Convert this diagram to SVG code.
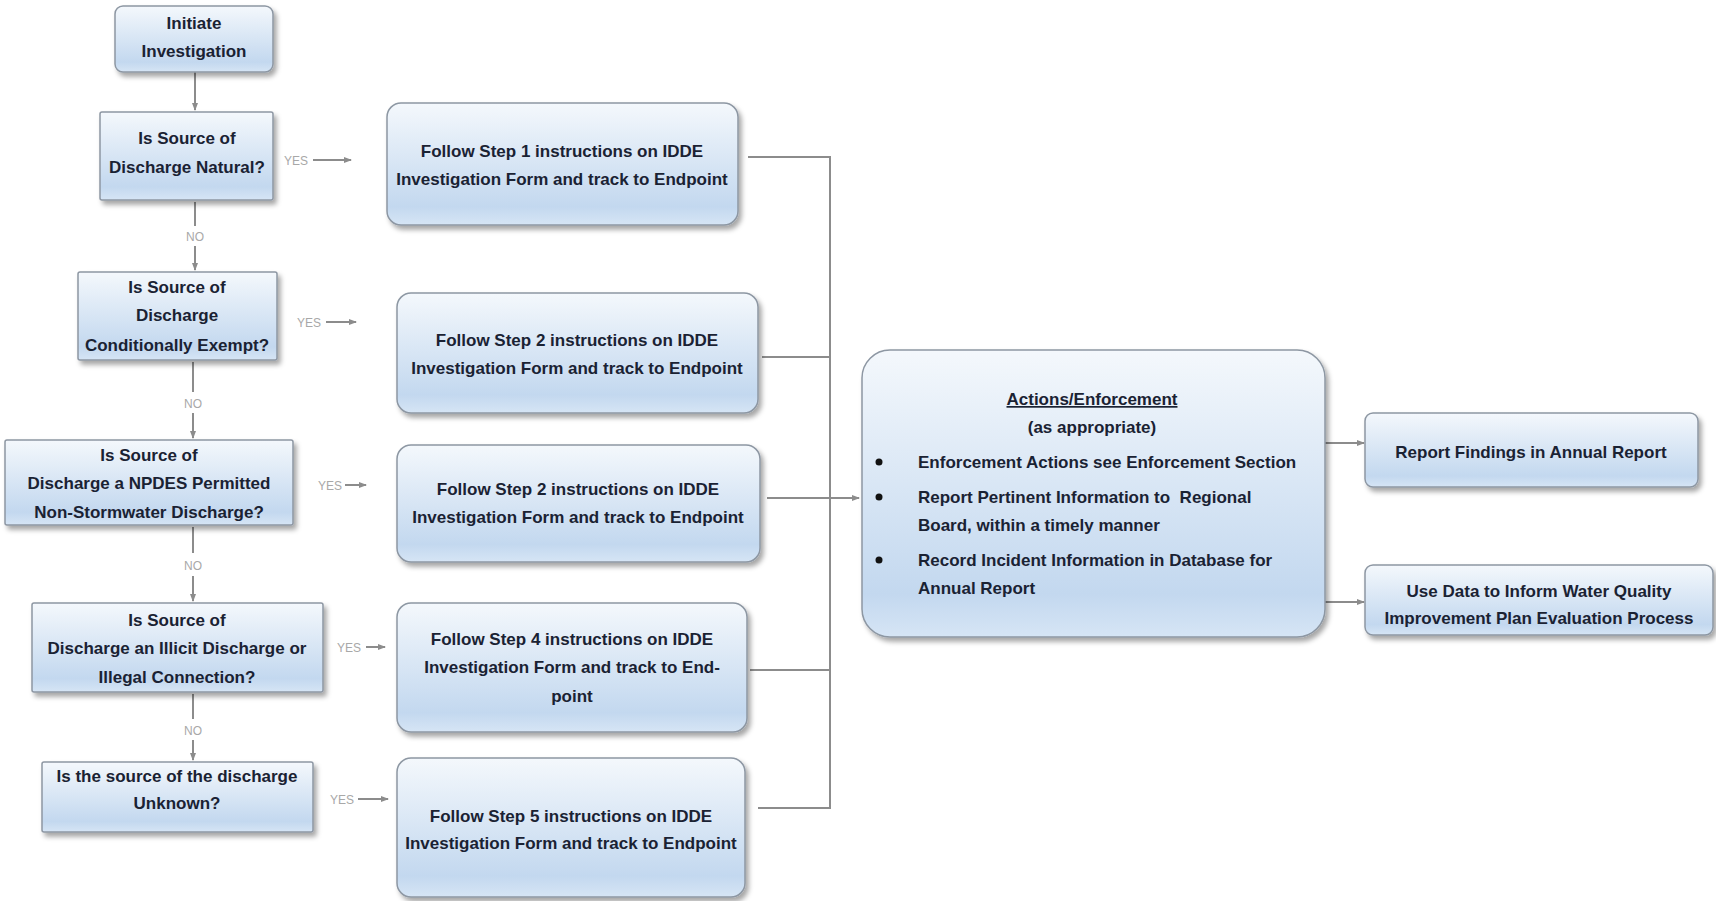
<svg xmlns="http://www.w3.org/2000/svg" width="1716" height="901" viewBox="0 0 1716 901">
<defs>
<linearGradient id="g" x1="0" y1="0" x2="0" y2="1">
<stop offset="0" stop-color="#f4f8fc"/>
<stop offset="0.85" stop-color="#c3d8ef"/>
<stop offset="1" stop-color="#d6e5f5"/>
</linearGradient>
<filter id="sh" x="-10%" y="-10%" width="125%" height="135%">
<feDropShadow dx="3" dy="4" stdDeviation="2.5" flood-color="#000" flood-opacity="0.35"/>
</filter>
<marker id="ah" markerWidth="8" markerHeight="8" refX="7" refY="4" orient="auto" markerUnits="userSpaceOnUse">
<path d="M0,1 L8,4 L0,7 Z" fill="#8c8c8c"/>
</marker>
</defs>
<style>
.box{fill:url(#g);stroke:#8d97a3;stroke-width:1.5;filter:url(#sh)}
.t{font-family:"Liberation Sans",Arial,sans-serif;font-weight:bold;font-size:17px;fill:#1a2233;text-anchor:middle}
.tl{font-family:"Liberation Sans",Arial,sans-serif;font-weight:bold;font-size:17px;fill:#1a2233;white-space:pre}
.lbl{font-family:"Liberation Sans",Arial,sans-serif;font-size:12px;fill:#a8a8a8;text-anchor:middle}
.c{stroke:#8c8c8c;stroke-width:2;fill:none}
.ca{stroke:#8c8c8c;stroke-width:2;fill:none;marker-end:url(#ah)}
</style>
<rect width="1716" height="901" fill="#ffffff"/>

<g id="connectors">
<path class="ca" d="M195,72 V110"/>
<path class="c" d="M195,202 V226"/>
<path class="ca" d="M195,246 V270"/>
<path class="c" d="M193,362 V392"/>
<path class="ca" d="M193,413 V438"/>
<path class="c" d="M193,527 V553"/>
<path class="ca" d="M193,576 V601"/>
<path class="c" d="M193,694 V719"/>
<path class="ca" d="M193,740 V760"/>
<path class="ca" d="M313,160 H351"/>
<path class="ca" d="M326,322 H356"/>
<path class="ca" d="M345,485 H366"/>
<path class="ca" d="M366,647 H385"/>
<path class="ca" d="M358,799 H388"/>
<path class="c" d="M748,157 H830 V808 H758"/>
<path class="c" d="M762,357 H830"/>
<path class="c" d="M750,670 H830"/>
<path class="ca" d="M767,498 H859"/>
<path class="ca" d="M1325,443 H1364"/>
<path class="ca" d="M1325,602 H1364"/>
<text class="lbl" x="296" y="165">YES</text>
<text class="lbl" x="309" y="327">YES</text>
<text class="lbl" x="330" y="490">YES</text>
<text class="lbl" x="349" y="652">YES</text>
<text class="lbl" x="342" y="804">YES</text>
<text class="lbl" x="195" y="241">NO</text>
<text class="lbl" x="193" y="408">NO</text>
<text class="lbl" x="193" y="570">NO</text>
<text class="lbl" x="193" y="735">NO</text>
</g>

<g id="initiate">
<rect class="box" x="115" y="6" width="158" height="66" rx="8"/>
<text class="t" x="194" y="29">Initiate</text>
<text class="t" x="194" y="57">Investigation</text>
</g>
<g id="q-natural">
<rect class="box" x="100" y="112" width="173" height="88" rx="2"/>
<text class="t" x="187" y="144">Is Source of</text>
<text class="t" x="187" y="173">Discharge Natural?</text>
</g>
<g id="q-exempt">
<rect class="box" x="78" y="272" width="199" height="88" rx="2"/>
<text class="t" x="177" y="293">Is Source of</text>
<text class="t" x="177" y="321">Discharge</text>
<text class="t" x="177" y="351">Conditionally Exempt?</text>
</g>
<g id="q-npdes">
<rect class="box" x="5" y="440" width="288" height="85" rx="2"/>
<text class="t" x="149" y="461">Is Source of</text>
<text class="t" x="149" y="489">Discharge a NPDES Permitted</text>
<text class="t" x="149" y="518">Non-Stormwater Discharge?</text>
</g>
<g id="q-illicit">
<rect class="box" x="32" y="603" width="291" height="89" rx="2"/>
<text class="t" x="177" y="626">Is Source of</text>
<text class="t" x="177" y="654">Discharge an Illicit Discharge or</text>
<text class="t" x="177" y="683">Illegal Connection?</text>
</g>
<g id="q-unknown">
<rect class="box" x="42" y="762" width="271" height="70" rx="2"/>
<text class="t" x="177" y="782">Is the source of the discharge</text>
<text class="t" x="177" y="809">Unknown?</text>
</g>

<g id="step1">
<rect class="box" x="387" y="103" width="351" height="122" rx="14"/>
<text class="t" x="562" y="157">Follow Step 1 instructions on IDDE</text>
<text class="t" x="562" y="185">Investigation Form and track to Endpoint</text>
</g>
<g id="step2a">
<rect class="box" x="397" y="293" width="361" height="120" rx="14"/>
<text class="t" x="577" y="346">Follow Step 2 instructions on IDDE</text>
<text class="t" x="577" y="374">Investigation Form and track to Endpoint</text>
</g>
<g id="step2b">
<rect class="box" x="397" y="445" width="363" height="117" rx="14"/>
<text class="t" x="578" y="495">Follow Step 2 instructions on IDDE</text>
<text class="t" x="578" y="523">Investigation Form and track to Endpoint</text>
</g>
<g id="step4">
<rect class="box" x="397" y="603" width="350" height="129" rx="14"/>
<text class="t" x="572" y="645">Follow Step 4 instructions on IDDE</text>
<text class="t" x="572" y="673">Investigation Form and track to End-</text>
<text class="t" x="572" y="702">point</text>
</g>
<g id="step5">
<rect class="box" x="397" y="758" width="348" height="139" rx="14"/>
<text class="t" x="571" y="822">Follow Step 5 instructions on IDDE</text>
<text class="t" x="571" y="849">Investigation Form and track to Endpoint</text>
</g>

<g id="actions">
<rect class="box" x="862" y="350" width="463" height="287" rx="28"/>
<text class="t" x="1092" y="405" text-decoration="underline">Actions/Enforcement</text>
<text class="t" x="1092" y="433">(as appropriate)</text>
<circle cx="879" cy="462" r="3.5" fill="#111"/>
<circle cx="879" cy="497" r="3.5" fill="#111"/>
<circle cx="879" cy="560" r="3.5" fill="#111"/>
<text class="tl" x="918" y="468">Enforcement Actions see Enforcement Section</text>
<text class="tl" x="918" y="503" xml:space="preserve">Report Pertinent Information to  Regional</text>
<text class="tl" x="918" y="531">Board, within a timely manner</text>
<text class="tl" x="918" y="566">Record Incident Information in Database for</text>
<text class="tl" x="918" y="594">Annual Report</text>
</g>

<g id="report">
<rect class="box" x="1365" y="413" width="333" height="74" rx="8"/>
<text class="t" x="1531" y="458">Report Findings in Annual Report</text>
</g>
<g id="usedata">
<rect class="box" x="1365" y="565" width="348" height="70" rx="8"/>
<text class="t" x="1539" y="597">Use Data to Inform Water Quality</text>
<text class="t" x="1539" y="624">Improvement Plan Evaluation Process</text>
</g>
</svg>
